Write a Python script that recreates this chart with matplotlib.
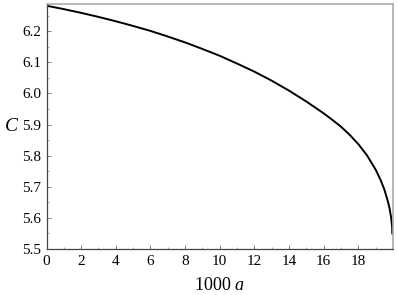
import matplotlib
matplotlib.use("Agg")
import matplotlib.pyplot as plt
from matplotlib.ticker import MultipleLocator

# Data
a1000 = [0, 1, 2, 3, 4, 5, 6, 7, 8, 9, 10, 11, 12, 13, 14, 15, 16, 16.5, 17,
         17.5, 18, 18.5, 19, 19.3, 19.5, 19.7, 19.8, 19.9, 19.95, 19.96]
C_vals = [6.282, 6.271, 6.259, 6.246, 6.232, 6.217, 6.201, 6.183, 6.164, 6.143,
          6.121, 6.096, 6.070, 6.041, 6.009, 5.974, 5.936, 5.915, 5.893, 5.867,
          5.837, 5.801, 5.755, 5.720, 5.691, 5.654, 5.631, 5.598, 5.571, 5.550]
x_ticks = [0, 2, 4, 6, 8, 10, 12, 14, 16, 18]
y_ticks = [5.5, 5.6, 5.7, 5.8, 5.9, 6.0, 6.1, 6.2]

plt.rcParams['font.family'] = ['Liberation Serif', 'DejaVu Serif']
plt.rcParams['mathtext.fontset'] = 'custom'
plt.rcParams['mathtext.it'] = 'Liberation Serif:italic'
plt.rcParams['mathtext.rm'] = 'Liberation Serif'

fig = plt.figure(figsize=(3.97, 2.95), dpi=100)
ax = fig.add_axes([46.5/397, 1-249/295, (393-46.5)/397, (249-4)/295])
ax.plot(a1000, C_vals, color='black', lw=1.4)
ax.set_xlim(0, 20.0)
ax.set_ylim(5.5, 6.2875)
ax.set_xticks(x_ticks)
ax.set_yticks(y_ticks)
ax.set_yticklabels([f"{v:.1f}" for v in y_ticks])
ax.xaxis.set_minor_locator(MultipleLocator(1))
ax.yaxis.set_minor_locator(MultipleLocator(0.05))
ax.tick_params(which='major', direction='in', length=3, width=0.6, color='#666666',
               labelsize=11, pad=4, top=False, right=False)
ax.tick_params(which='minor', direction='in', length=1.5, width=0.5, color='#888888',
               top=False, right=False)
for s in ['left', 'bottom']:
    ax.spines[s].set_color('#444444')
    ax.spines[s].set_linewidth(0.9)
for s in ['top', 'right']:
    ax.spines[s].set_color('#aaaaaa')
    ax.spines[s].set_linewidth(1.2)

ax.set_xlabel(r"1000 $a$", fontsize=13, labelpad=3)
ax.set_ylabel(r"$C$", fontsize=14, rotation=0)
ax.yaxis.set_label_coords(-0.1, 0.465)
ax.xaxis.set_label_coords(0.5, -0.115)

fig.savefig("out.png", dpi=100)
